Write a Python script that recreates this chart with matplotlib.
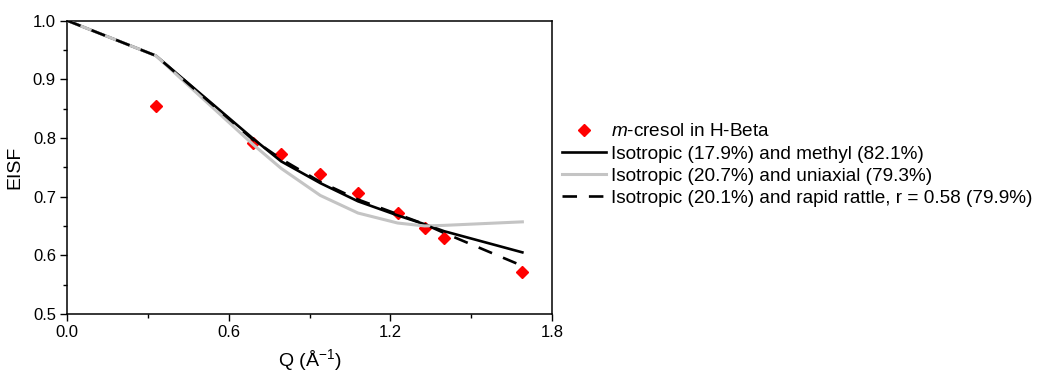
import matplotlib
matplotlib.use("Agg")
import matplotlib.pyplot as plt
from matplotlib.ticker import MultipleLocator

plt.rcParams['font.family'] = ['Liberation Sans', 'DejaVu Sans']
plt.rcParams['mathtext.fontset'] = 'custom'
plt.rcParams['mathtext.rm'] = 'Liberation Sans'
plt.rcParams['mathtext.it'] = 'Liberation Sans:italic'

# Measured EISF for m-cresol in H-Beta
q_data = [0.33, 0.69, 0.795, 0.94, 1.08, 1.227, 1.327, 1.40, 1.69]
eisf_data = [0.854, 0.791, 0.772, 0.738, 0.706, 0.672, 0.646, 0.629, 0.572]

# Model fits, evaluated at Q = 0 and the measured Q values
q_model = [0.0, 0.33, 0.69, 0.795, 0.94, 1.08, 1.227, 1.327, 1.40, 1.69]
eisf_methyl = [1.0, 0.940, 0.799, 0.760, 0.723, 0.692, 0.668, 0.653, 0.641, 0.605]
eisf_uniaxial = [1.0, 0.940, 0.789, 0.748, 0.702, 0.672, 0.655, 0.650, 0.651, 0.657]
eisf_rattle = [1.0, 0.940, 0.797, 0.764, 0.725, 0.695, 0.670, 0.653, 0.638, 0.582]

labels = [
    "$\\mathit{m}$-cresol in H-Beta",
    "Isotropic (17.9%) and methyl (82.1%)",
    "Isotropic (20.7%) and uniaxial (79.3%)",
    "Isotropic (20.1%) and rapid rattle, r = 0.58 (79.9%)",
]

fig = plt.figure(figsize=(10.4, 3.75), dpi=100)
ax = fig.add_axes([67 / 1040, 1 - 314 / 375, 485 / 1040, 293.5 / 375])

h_data, = ax.plot(q_data, eisf_data, linestyle='none', marker='D', color='#ff0000',
                  markersize=6.5, zorder=2)
h_methyl, = ax.plot(q_model, eisf_methyl, color='black', lw=1.9, zorder=3)
h_uni, = ax.plot(q_model, eisf_uniaxial, color='#c4c4c4', lw=2.2, zorder=4)
h_rattle, = ax.plot(q_model, eisf_rattle, color='black', lw=1.9, dashes=(5.5, 4.5), zorder=5)

ax.set_xlim(0, 1.8)
ax.set_ylim(0.5, 1.0)
ax.xaxis.set_major_locator(MultipleLocator(0.6))
ax.xaxis.set_minor_locator(MultipleLocator(0.3))
ax.yaxis.set_major_locator(MultipleLocator(0.1))
ax.yaxis.set_minor_locator(MultipleLocator(0.05))
ax.tick_params(which='major', direction='out', length=5, width=1, labelsize=12,
               pad=3, top=False, right=False)
ax.tick_params(which='minor', direction='out', length=3, width=1, top=False, right=False)
for s in ax.spines.values():
    s.set_linewidth(1.1)

ax.set_xlabel("Q (Å$^{-1}$)", fontsize=14, labelpad=5)
ax.set_ylabel("EISF", fontsize=14, labelpad=7)

fig.legend([h_data, h_methyl, h_uni, h_rattle], labels,
           loc='upper left', bbox_to_anchor=(562 / 1040, 1 - 123 / 375),
           frameon=False, fontsize=13.7, handlelength=2.3, handletextpad=0.3,
           labelspacing=0.26, borderaxespad=0, borderpad=0)

fig.savefig("out.png", dpi=100)
